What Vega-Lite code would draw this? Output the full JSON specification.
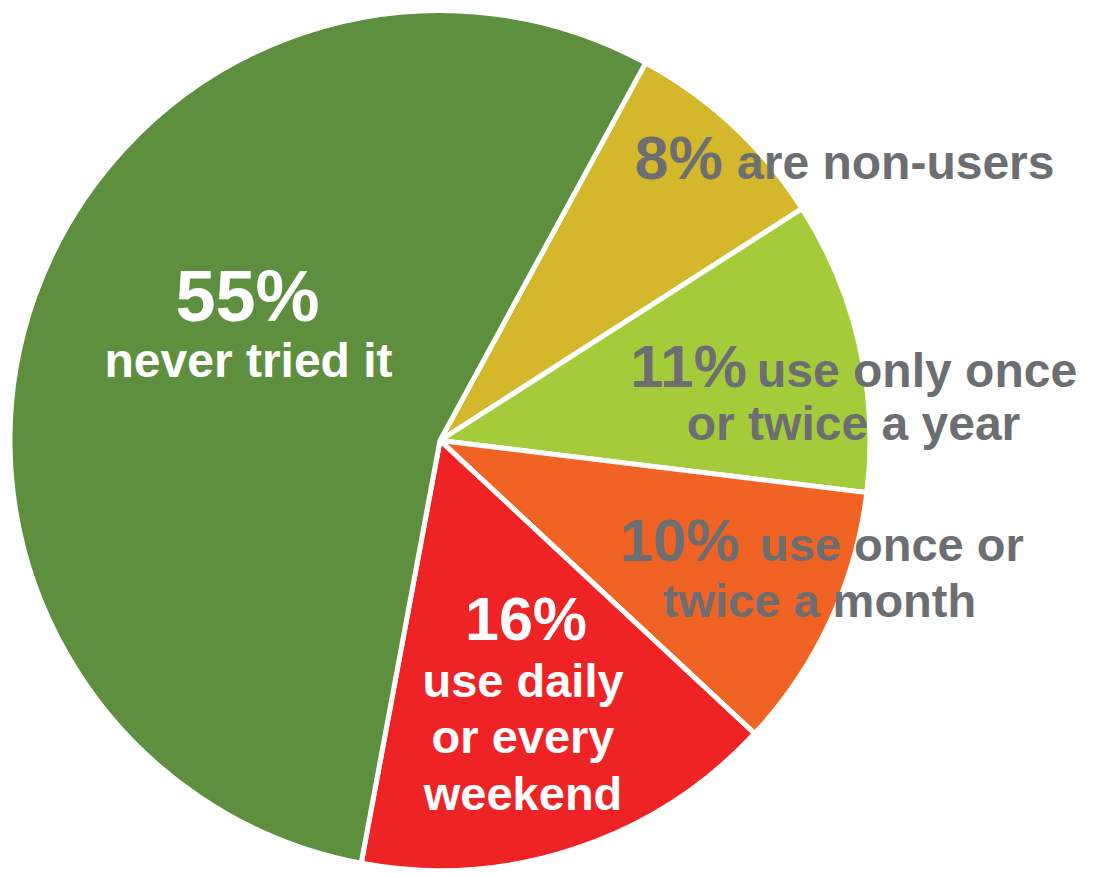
{
  "$schema": "https://vega.github.io/schema/vega-lite/v6.json",
  "width": 880,
  "height": 875,
  "padding": {"left": 0, "right": 223, "top": 3, "bottom": 0},
  "autosize": {"type": "none"},
  "background": "white",
  "config": {"view": {"stroke": null}, "text": {"font": "Liberation Sans", "fontWeight": "bold", "lineBreak": "\n"}},
  "data": {"values": [
    {"cat": "non", "value": 8, "rank": 1, "pct": "8%", "line1": "are non-users", "line2": ""},
    {"cat": "year", "value": 11, "rank": 2, "pct": "11%", "line1": "use only once", "line2": "or twice a year"},
    {"cat": "month", "value": 10, "rank": 3, "pct": "10%", "line1": "use once or", "line2": "twice a month"},
    {"cat": "daily", "value": 16, "rank": 4, "pct": "16%", "line1": "use daily\nor every\nweekend", "line2": ""},
    {"cat": "never", "value": 55, "rank": 5, "pct": "55%", "line1": "never tried it", "line2": ""}
  ]},
  "encoding": {
    "theta": {"field": "value", "type": "quantitative", "stack": true, "scale": {"range": [0.4985, 6.7817]}},
    "order": {"field": "rank", "type": "quantitative", "sort": "ascending"}
  },
  "layer": [
    {
      "mark": {"type": "arc", "outerRadius": 430, "stroke": "white", "strokeWidth": 5},
      "encoding": {
        "color": {"field": "cat", "type": "nominal", "legend": null,
          "scale": {"domain": ["non", "year", "month", "daily", "never"], "range": ["#D4B72A", "#A4CC3A", "#F16324", "#EE2326", "#5D8F3E"]}}
      }
    },
    {"mark": {"type": "text", "radius": 360, "dx": 37.7, "dy": 2.4, "align": "right", "baseline": "alphabetic", "fontSize": 61, "fill": "#6D6E71"},
     "encoding": {"text": {"condition": {"test": "datum.cat === 'non'", "field": "pct"}, "value": ""}}},
    {"mark": {"type": "text", "radius": 360, "dx": 51.7, "dy": 2.4, "align": "left", "baseline": "alphabetic", "fontSize": 48, "fill": "#6D6E71"},
     "encoding": {"text": {"condition": {"test": "datum.cat === 'non'", "field": "line1"}, "value": ""}}},

    {"mark": {"type": "text", "radius": 400, "dx": -83, "dy": 34.9, "align": "right", "baseline": "alphabetic", "fontSize": 60, "fill": "#6D6E71"},
     "encoding": {"text": {"condition": {"test": "datum.cat === 'year'", "field": "pct"}, "value": ""}}},
    {"mark": {"type": "text", "radius": 400, "dx": -73, "dy": 34.9, "align": "left", "baseline": "alphabetic", "fontSize": 48, "fill": "#6D6E71"},
     "encoding": {"text": {"condition": {"test": "datum.cat === 'year'", "field": "line1"}, "value": ""}}},
    {"mark": {"type": "text", "radius": 400, "dx": 23.5, "dy": 87.9, "align": "center", "baseline": "alphabetic", "fontSize": 48, "fill": "#6D6E71"},
     "encoding": {"text": {"condition": {"test": "datum.cat === 'year'", "field": "line2"}, "value": ""}}},

    {"mark": {"type": "text", "radius": 380, "dx": -44.5, "dy": -39.4, "align": "right", "baseline": "alphabetic", "fontSize": 60, "fill": "#6D6E71"},
     "encoding": {"text": {"condition": {"test": "datum.cat === 'month'", "field": "pct"}, "value": ""}}},
    {"mark": {"type": "text", "radius": 380, "dx": -24.5, "dy": -39.4, "align": "left", "baseline": "alphabetic", "fontSize": 47, "fill": "#6D6E71"},
     "encoding": {"text": {"condition": {"test": "datum.cat === 'month'", "field": "line1"}, "value": ""}}},
    {"mark": {"type": "text", "radius": 380, "dx": 35, "dy": 16.6, "align": "center", "baseline": "alphabetic", "fontSize": 47, "fill": "#6D6E71"},
     "encoding": {"text": {"condition": {"test": "datum.cat === 'month'", "field": "line2"}, "value": ""}}},

    {"mark": {"type": "text", "radius": 280, "dx": -1.6, "dy": -66.9, "align": "center", "baseline": "alphabetic", "fontSize": 61, "fill": "white"},
     "encoding": {"text": {"condition": {"test": "datum.cat === 'daily'", "field": "pct"}, "value": ""}}},
    {"mark": {"type": "text", "radius": 280, "dx": -4.6, "dy": -9.9, "align": "center", "baseline": "alphabetic", "fontSize": 47, "lineHeight": 56.5, "fill": "white"},
     "encoding": {"text": {"condition": {"test": "datum.cat === 'daily'", "field": "line1"}, "value": ""}}},

    {"mark": {"type": "text", "radius": 210, "dx": 5.4, "dy": -48.7, "align": "center", "baseline": "alphabetic", "fontSize": 72, "fill": "white"},
     "encoding": {"text": {"condition": {"test": "datum.cat === 'never'", "field": "pct"}, "value": ""}}},
    {"mark": {"type": "text", "radius": 210, "dx": 6.4, "dy": 7.3, "align": "center", "baseline": "alphabetic", "fontSize": 48, "fill": "white"},
     "encoding": {"text": {"condition": {"test": "datum.cat === 'never'", "field": "line1"}, "value": ""}}}
  ]
}
